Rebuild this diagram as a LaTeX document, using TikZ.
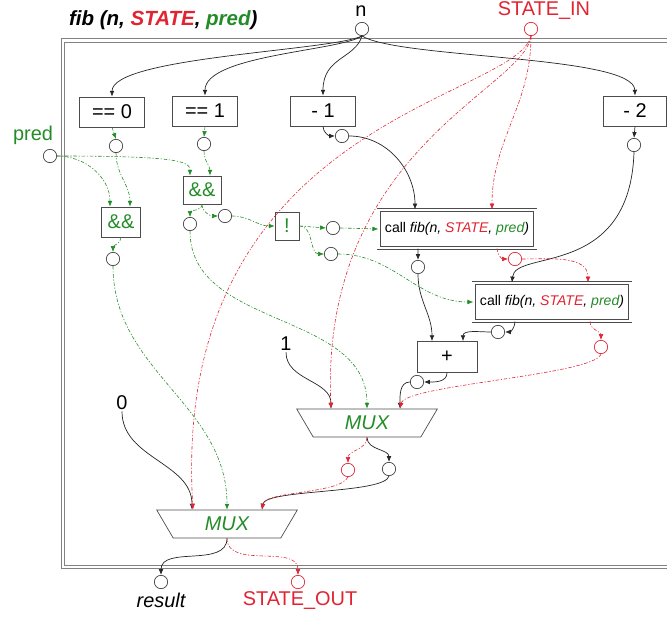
\documentclass[tikz,border=0pt]{standalone}
\usepackage{fontspec}
\setmainfont{Liberation Sans}
\usetikzlibrary{arrows.meta,shapes.geometric,positioning}

\begin{document}
\begin{tikzpicture}[x=0.03cm, y=0.03cm]
	\definecolor{stateColour}{RGB}{225, 35, 50}
	\definecolor{predColour}{RGB}{35, 140, 40}
	\definecolor{frameColour}{RGB}{130, 130, 130}
	\tikzstyle{txt}=[font=\fontsize{17}{20}\selectfont, inner sep=1pt]
	\tikzstyle{op}=[rectangle, draw=black!70, line width=0.6pt, font=\fontsize{17}{20}\selectfont, minimum height=0.9cm, inner sep=1pt]
	\tikzstyle{callbox}=[rectangle, draw=black!70, line width=0.6pt, double, double distance=2pt, font=\fontsize{12}{14}\selectfont, minimum width=4.7cm, minimum height=1.15cm, inner sep=1pt]
	\tikzstyle{mux}=[trapezium, draw=black!70, line width=0.6pt, shape border rotate=180, trapezium left angle=64, trapezium right angle=64, trapezium stretches=true, minimum width=4.23cm, minimum height=0.84cm, inner sep=0pt, font=\fontsize{17}{20}\selectfont\itshape, text=predColour]
	\tikzstyle{port}=[circle, draw=black!75, line width=0.6pt, minimum size=0.4cm, inner sep=0pt]
	\tikzstyle{sport}=[port, draw=stateColour]
	\tikzstyle{flow}=[-{Latex[length=5pt,width=4pt]}, black!85, line width=0.6pt]
	\tikzstyle{sflow}=[flow, stateColour, line width=0.5pt, dash pattern=on 3pt off 1.5pt on 1pt off 1.5pt]
	\tikzstyle{cflow}=[flow, predColour, line width=0.5pt, dash pattern=on 3pt off 1.5pt on 1pt off 1.5pt]

	\useasboundingbox (0,0) rectangle (667,619);

	% outer frame
	\draw[frameColour, double, double distance=2.5pt, line width=0.6pt] (63,578.5) rectangle (672,52);

	\node[anchor=west, font=\fontsize{17.5}{20}\selectfont\bfseries\itshape] (title) at (65,599) {fib (n, \textcolor{stateColour}{STATE}, \textcolor{predColour}{pred})};

	% inputs and outputs
	\node[txt] (n) at (361,608) {n};
	\node[port] (ncirc) at (362,590) {};
	\node[txt, text=stateColour] (sinl) at (544,608) {STATE\_IN};
	\node[sport] (sinc) at (531,590) {};
	\node[txt, text=predColour] (predl) at (33,484) {pred};
	\node[port] (pc) at (50,463) {};
	\node[txt] (one) at (286,275) {1};
	\node[txt] (zero) at (122,216) {0};
	\node[port] (res) at (161,37) {};
	\node[txt, font=\fontsize{17}{20}\selectfont\itshape] (resl) at (161,19) {result};
	\node[sport] (sout) at (298,37) {};
	\node[txt, text=stateColour] (soutl) at (300,18) {STATE\_OUT};

	% operators
	\node[op, minimum width=1.95cm] (eq0) at (112,507) {== 0};
	\node[op, minimum width=1.95cm] (eq1) at (205,508) {== 1};
	\node[op, minimum width=1.95cm] (m1) at (323,508) {- 1};
	\node[op, minimum width=1.89cm] (m2) at (635,508) {- 2};
	\node[op, text=predColour, minimum width=1.17cm] (andA) at (121,397) {\&\&};
	\node[op, text=predColour, minimum width=1.14cm, minimum height=0.84cm] (andB) at (202,429) {\&\&};
	\node[op, text=predColour, minimum width=0.72cm, minimum height=0.84cm] (notb) at (287,393) {!};
	\node[callbox] (call1) at (457,390) {call \textit{fib(n, \textcolor{stateColour}{STATE}, \textcolor{predColour}{pred})}};
	\node[callbox] (call2) at (552,317) {call \textit{fib(n, \textcolor{stateColour}{STATE}, \textcolor{predColour}{pred})}};
	\node[op, minimum width=1.8cm, minimum height=0.93cm] (plus) at (447,262) {+};
	\node[mux] (mux1) at (367,196) {MUX};
	\node[mux] (mux2) at (227,95) {MUX};

	% ports
	\node[port] (c0) at (116,473) {};
	\node[port] (c1) at (204,475) {};
	\node[port] (cm1) at (342,483) {};
	\node[port] (cm2) at (634,474) {};
	\node[port] (cA) at (113,360) {};
	\node[port] (cB1) at (190,395) {};
	\node[port] (cB2) at (225,403) {};
	\node[port] (cN1) at (333,391) {};
	\node[port] (cN2) at (331,365) {};
	\node[port] (cc1) at (418,352) {};
	\node[sport] (rc1) at (515,360) {};
	\node[port] (cc2) at (498,287) {};
	\node[sport] (rc2) at (601,272) {};
	\node[port] (cp) at (417,237) {};
	\node[sport] (rm1) at (348,149) {};
	\node[port] (bm1) at (389,150) {};

	% values
	\draw[flow] (ncirc.south) .. controls (330,568) and (112,562) .. (eq0.north);
	\draw[flow] (ncirc.south) .. controls (340,568) and (205,564) .. (eq1.north);
	\draw[flow] (ncirc.south) .. controls (355,560) and (323,562) .. (m1.north);
	\draw[flow] (ncirc.south) .. controls (400,560) and (634,564) .. (m2.north);
	\draw[flow] (cm2.south) .. controls (630,340) and (515,370) .. ([xshift=-1.2cm]call2.north);
	\draw[flow] (bm1.south) .. controls (385,125) and (265,130) .. ([xshift=1.05cm]mux2.north);
	\path[flow]
	(m1.south) edge[out=270, in=180] (cm1.west)
	(cm1.east) edge[out=0, in=90] ([xshift=-1.26cm]call1.north)
	(m2.south) edge (cm2.north)
	([xshift=-1.17cm]call1.south) edge (cc1.north)
	(cc1.south) edge[out=270, in=90] ([xshift=-0.45cm]plus.north)
	([xshift=-1.11cm]call2.south) edge[out=270, in=0] (cc2.east)
	(cc2.west) edge[out=180, in=90] ([xshift=0.48cm]plus.north)
	(plus.south) edge[out=270, in=0] (cp.east)
	(cp.west) edge[out=180, in=90] ([xshift=0.99cm]mux1.north)
	(one.south) edge[out=270, in=90] ([xshift=-1.08cm]mux1.north)
	(mux1.south) edge[out=270, in=90] (bm1.north)
	(zero.south) edge[out=270, in=90] ([xshift=-1.05cm]mux2.north)
	(mux2.south) edge[out=270, in=90] (res.north);

	% state
	\draw[sflow] (sinc.south) .. controls (515,519) and (170,499) .. ([xshift=-1.02cm]mux2.north);
	\draw[sflow] (sinc.south) .. controls (525,530) and (320,470) .. ([xshift=-1.08cm]mux1.north);
	\draw[sflow] (rc2.south) .. controls (595,244) and (405,234) .. ([xshift=0.99cm]mux1.north);
	\draw[sflow] (rm1.south) .. controls (340,125) and (265,128) .. ([xshift=1.05cm]mux2.north);
	\path[sflow]
	(sinc.south) edge[out=270, in=90] ([xshift=1.05cm]call1.north)
	([xshift=1.2cm]call1.south) edge[out=270, in=180] (rc1.west)
	(rc1.east) edge[out=0, in=90] ([xshift=1.08cm]call2.north)
	([xshift=1.14cm]call2.south) edge[out=270, in=90] (rc2.north)
	(mux1.south) edge[out=270, in=90] (rm1.north)
	(mux2.south) edge[out=270, in=90] (sout.north);

	% predicates
	\draw[cflow] (pc.east) .. controls (175,463) and (190,458) .. ([xshift=-0.36cm]andB.north);
	\path[cflow]
	(pc.east) edge[out=0, in=90] ([xshift=-0.33cm]andA.north)
	(eq0.south) edge (c0.north)
	(c0.south) edge[out=270, in=90] ([xshift=0.27cm]andA.north)
	(eq1.south) edge (c1.north)
	(c1.south) edge[out=270, in=90] ([xshift=0.24cm]andB.north)
	(andA.south) edge[out=270, in=90] (cA.north)
	(andB.south) edge[out=270, in=90] (cB1.north)
	(andB.south) edge[out=270, in=180] (cB2.west)
	(cB2.east) edge[out=0, in=180] (notb.west)
	(notb.east) edge (cN1.west)
	(notb.east) edge[out=0, in=180] (cN2.west)
	(cN1.east) edge (call1.west)
	(cN2.east) edge[out=0, in=180] (call2.west)
	(cA.south) edge[out=270, in=90] (mux2.north)
	(cB1.south) edge[out=270, in=90] (mux1.north);
\end{tikzpicture}
\end{document}
